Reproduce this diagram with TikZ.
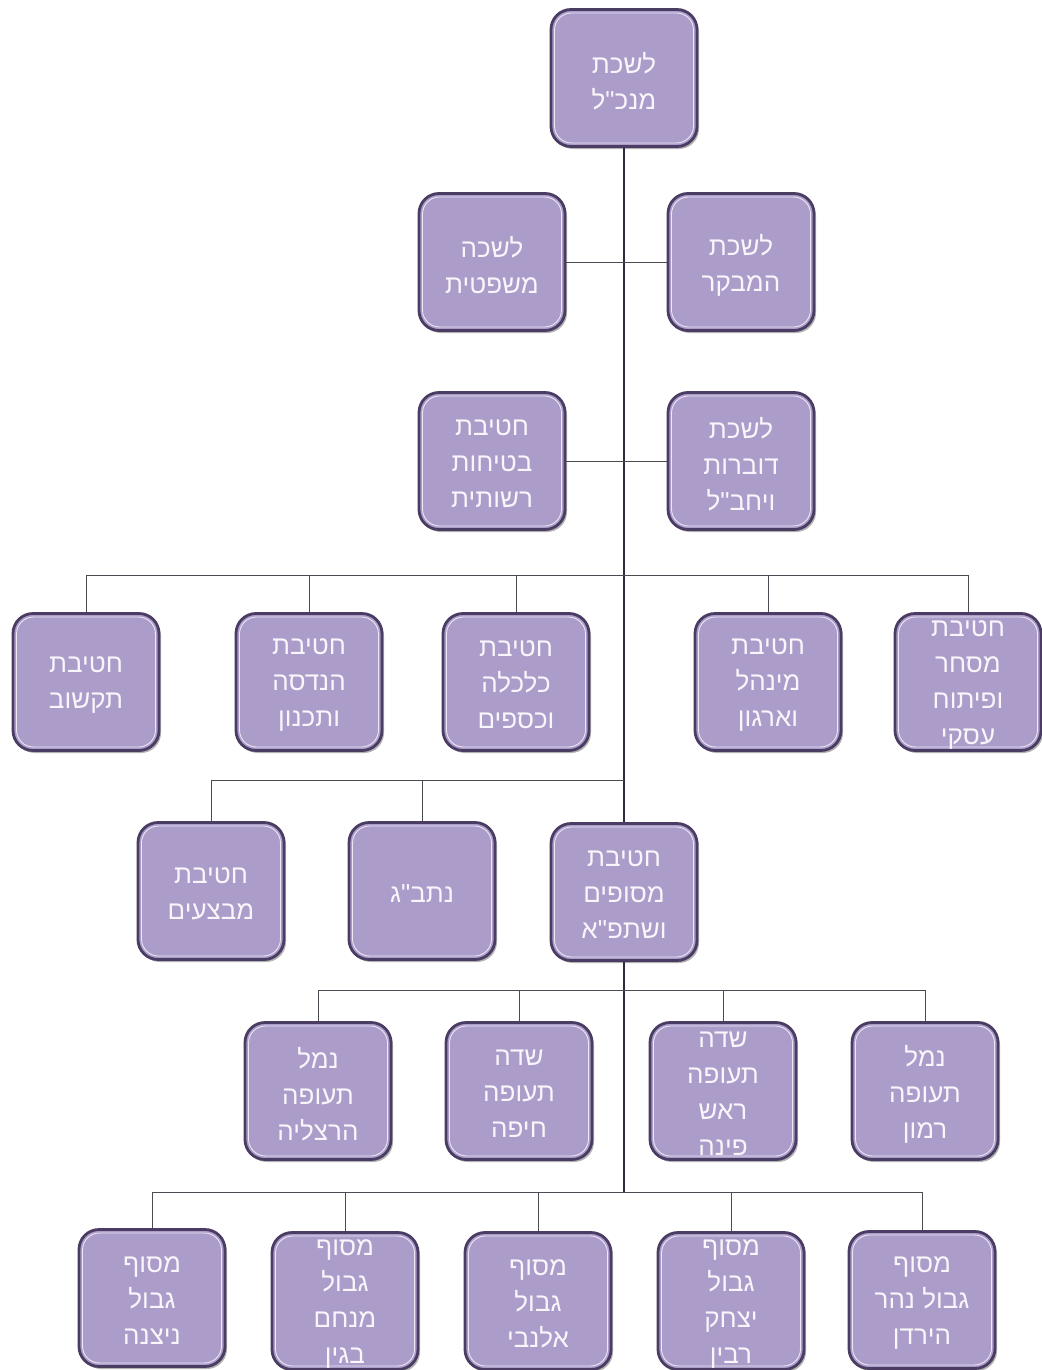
\documentclass[tikz,border=0pt]{standalone}
\usepackage{fontspec}
\newfontfamily\hebfont[Script=Hebrew]{Liberation Sans}
\TeXXeTstate=1
\usetikzlibrary{shadows}
\definecolor{boxfill}{HTML}{AB9CC9}
\definecolor{boxedge}{HTML}{4A3C62}
\definecolor{boxinner}{HTML}{EDE6F4}
\definecolor{trunkcol}{HTML}{2F2A40}
\definecolor{branchcol}{HTML}{4A4A52}
\definecolor{txtcol}{HTML}{F8F5FB}
\newcommand\hl[1]{\beginR #1\endR}
\newcommand\obox[4]{%
  \node[obox] (#1) at (#2,#3) {};
  \node[oinner] (#1-in) at (#1.center) {};
  \node[otext] (#1-t) at ([yshift=-3pt]#1.center) {#4};
}
\begin{document}
\begin{tikzpicture}[x=1pt,y=-1pt,
  obox/.style={rectangle, rounded corners=20pt, fill=boxfill, draw=boxedge,
    line width=2.8pt, minimum width=146pt, minimum height=137pt, inner sep=0pt,
    drop shadow={shadow xshift=2pt, shadow yshift=-2.5pt, opacity=0.3, fill=black}},
  oinner/.style={rectangle, rounded corners=17pt, draw=boxinner, line width=0.9pt,
    minimum width=139pt, minimum height=130pt, inner sep=0pt},
  otext/.style={text=txtcol, font=\hebfont\fontsize{26}{36}\selectfont, align=center, inner sep=0pt},
  trunk/.style={draw=trunkcol, line width=1.8pt},
  branch/.style={draw=branchcol, line width=1pt}]
\useasboundingbox (0,0) rectangle (1041,1370);
\fill[white] (0,0) rectangle (1041,1370);

% level 1
\obox{gm}{624}{78}{\hl{לשכת}\\\hl{מנכ"ל}}
% level 2
\obox{legal}{492}{262}{\hl{לשכה}\\\hl{משפטית}}
\obox{audit}{741}{262}{\hl{לשכת}\\\hl{המבקר}}
\obox{safety}{492}{461}{\hl{חטיבת}\\\hl{בטיחות}\\\hl{רשותית}}
\obox{spokes}{741}{461}{\hl{לשכת}\\\hl{דוברות}\\\hl{ויחב"ל}}
% level 3
\obox{it}{86}{682}{\hl{חטיבת}\\\hl{תקשוב}}
\obox{eng}{309}{682}{\hl{חטיבת}\\\hl{הנדסה}\\\hl{ותכנון}}
\obox{fin}{516}{682}{\hl{חטיבת}\\\hl{כלכלה}\\\hl{וכספים}}
\obox{adm}{768}{682}{\hl{חטיבת}\\\hl{מינהל}\\\hl{וארגון}}
\obox{com}{968}{682}{\hl{חטיבת}\\\hl{מסחר}\\\hl{ופיתוח}\\\hl{עסקי}}
% level 4
\obox{ops}{211}{891}{\hl{חטיבת}\\\hl{מבצעים}}
\obox{natbag}{422}{891}{\hl{נתב"ג}}
\obox{term}{624}{892}{\hl{חטיבת}\\\hl{מסופים}\\\hl{ושתפ"א}}
% level 5
\obox{hrz}{318}{1091}{\hl{נמל}\\\hl{תעופה}\\\hl{הרצליה}}
\obox{hfa}{519}{1091}{\hl{שדה}\\\hl{תעופה}\\\hl{חיפה}}
\obox{rpn}{723}{1091}{\hl{שדה}\\\hl{תעופה}\\\hl{ראש}\\\hl{פינה}}
\obox{ram}{925}{1091}{\hl{נמל}\\\hl{תעופה}\\\hl{רמון}}
% level 6
\obox{niz}{152}{1298}{\hl{מסוף}\\\hl{גבול}\\\hl{ניצנה}}
\obox{beg}{345}{1301}{\hl{מסוף}\\\hl{גבול}\\\hl{מנחם}\\\hl{בגין}}
\obox{all}{538}{1301}{\hl{מסוף}\\\hl{גבול}\\\hl{אלנבי}}
\obox{rab}{731}{1301}{\hl{מסוף}\\\hl{גבול}\\\hl{יצחק}\\\hl{רבין}}
\obox{jor}{922}{1300}{\hl{מסוף}\\\hl{גבול נהר}\\\hl{הירדן}}

% junctions
\coordinate (b3) at (624,575);
\coordinate (b4) at (624,780);
\coordinate (b5) at (624,990);
\coordinate (b6) at (624,1192);

% trunk
\draw[trunk] (gm.south) -- (term.north);
\draw[trunk] (term.south) -- (b6);
% level 2 links
\draw[branch] (legal.east) -- (audit.west);
\draw[branch] (safety.east) -- (spokes.west);
% level 3 links
\foreach \n in {it,eng,fin,adm,com} \draw[branch] (b3) -| (\n.north);
% level 4 links
\foreach \n in {ops,natbag} \draw[branch] (b4) -| (\n.north);
% level 5 links
\foreach \n in {hrz,hfa,rpn,ram} \draw[branch] (b5) -| (\n.north);
% level 6 links
\foreach \n in {niz,beg,all,rab,jor} \draw[branch] (b6) -| (\n.north);
\end{tikzpicture}
\end{document}
